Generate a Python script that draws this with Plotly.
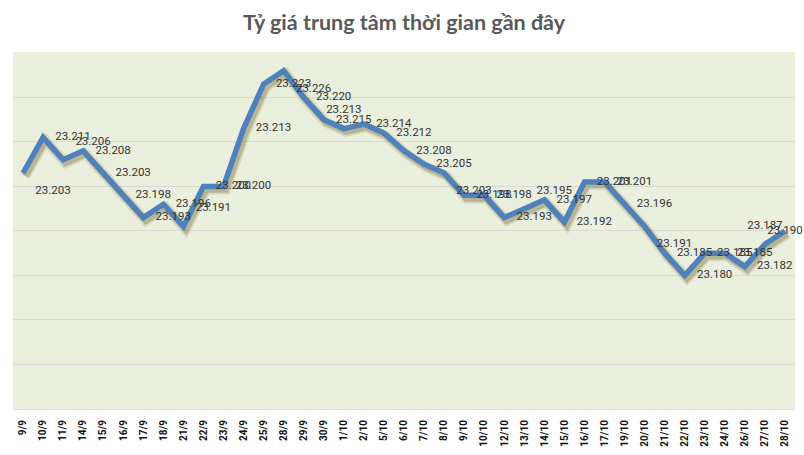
import plotly.graph_objects as go

dates = ["9/9", "10/9", "11/9", "14/9", "15/9", "16/9", "17/9", "18/9", "21/9", "22/9",
         "23/9", "24/9", "25/9", "28/9", "29/9", "30/9", "1/10", "2/10", "5/10", "6/10",
         "7/10", "8/10", "9/10", "10/10", "12/10", "13/10", "14/10", "15/10", "16/10", "17/10",
         "19/10", "20/10", "21/10", "22/10", "23/10", "24/10", "26/10", "27/10", "28/10"]
rates = [23.203, 23.211, 23.206, 23.208, 23.203, 23.198, 23.193, 23.196, 23.191, 23.200,
         23.200, 23.213, 23.223, 23.226, 23.220, 23.215, 23.213, 23.214, 23.212, 23.208,
         23.205, 23.203, 23.198, 23.198, 23.193, 23.195, 23.197, 23.192, 23.201, 23.201,
         23.196, 23.191, 23.185, 23.180, 23.185, 23.185, 23.182, 23.187, 23.190]
labels = [f"{v:.3f}" for v in rates]

# label placement (style only)
pos_exceptions = {"9/9": "bottom right", "11/9": "top right", "21/9": "top right",
                  "28/9": "bottom right", "1/10": "top center", "8/10": "bottom right",
                  "13/10": "top right", "20/10": "bottom right", "27/10": "top center",
                  "28/10": "middle center"}
text_pos = [pos_exceptions.get(d, "middle right") for d in dates]

Y0, Y1 = 23.150, 23.2302
n = len(dates)
dy_shadow = 0.0007   # shadow offset (~3px)
dx_shadow = 0.12     # shadow offset (~2px)

fig = go.Figure()
# soft shadow on primary axes (shifted range)
fig.add_trace(go.Scatter(x=dates, y=rates, mode="lines", xaxis="x", yaxis="y",
                         line=dict(color="rgba(120,112,50,0.18)", width=10),
                         hoverinfo="skip", showlegend=False))
fig.add_trace(go.Scatter(x=dates, y=rates, mode="lines", xaxis="x", yaxis="y",
                         line=dict(color="rgba(110,104,50,0.30)", width=6.5),
                         hoverinfo="skip", showlegend=False))
# main line on overlay axes
fig.add_trace(go.Scatter(x=dates, y=rates, mode="lines+markers+text", xaxis="x2", yaxis="y2",
                         line=dict(color="#4F81BD", width=5.5),
                         marker=dict(size=18, color="rgba(0,0,0,0)"),
                         text=labels, textposition=text_pos,
                         textfont=dict(family="Roboto", size=11.5, color="#333333"),
                         cliponaxis=False, showlegend=False))

fig.update_layout(
    width=804, height=455,
    margin=dict(l=13, r=9, t=52, b=46),
    paper_bgcolor="white",
    plot_bgcolor="#EBEFDE",
    title=dict(text="Tỷ giá trung tâm thời gian gần đây",
               font=dict(family="Lato", size=21.5, color="#595959", weight="bold"),
               x=0.5, xanchor="center", xref="paper", y=1 - 22 / 455, yref="container",
               yanchor="middle"),
    xaxis=dict(type="category", range=[-0.5 - dx_shadow, n - 0.5 - dx_shadow],
               showgrid=False, showticklabels=False, zeroline=False, showline=False),
    yaxis=dict(range=[Y0 + dy_shadow, Y1 + dy_shadow], showgrid=False,
               showticklabels=False, zeroline=False),
    xaxis2=dict(type="category", overlaying="x", side="bottom", range=[-0.5, n - 0.5],
                showgrid=False, zeroline=False, showline=True, linecolor="#D9D9D9",
                linewidth=1, tickangle=-90, ticklabelstandoff=6,
                tickfont=dict(family="Roboto", size=10, color="#111111", weight="bold")),
    yaxis2=dict(overlaying="y", range=[Y0, Y1], dtick=0.01, tick0=23.15,
                showgrid=True, gridcolor="#D9D9D9", gridwidth=1,
                showticklabels=False, zeroline=False),
)

fig.write_html("out.html")
